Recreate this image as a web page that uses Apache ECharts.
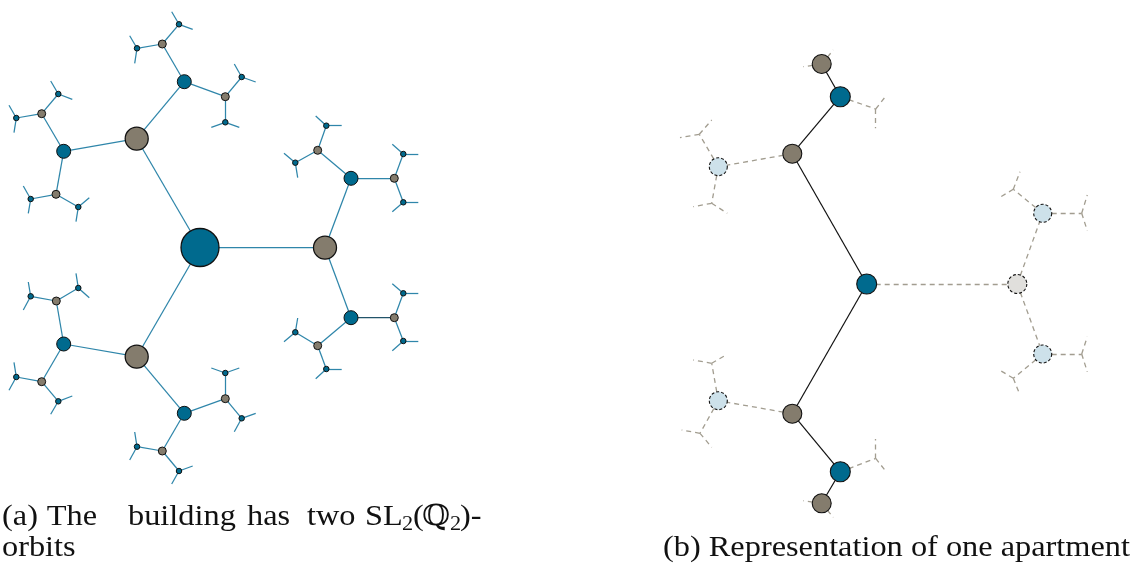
<!DOCTYPE html>
<html><head><meta charset="utf-8">
<script src="https://cdn.jsdelivr.net/npm/echarts@6/dist/echarts.min.js"></script>
<style>html,body{margin:0;padding:0;background:#fff}#c{width:1132px;height:567px}</style>
</head><body><div id="c"></div>
<script>
// ---------- Data: left tree (building) ----------
// [x, y, level]
const leftNodes = [
  [200,247.5,0],
  [136.7,138.7,1],[325,247.7,1],[136.7,356.7,1],
  [184.3,81.7,2],[63.7,151.3,2],[351,178.3,2],[351,317.7,2],[63.7,344,2],[184.3,413.3,2],
  [162.3,44,3],[225.3,96.7,3],[41.7,113.7,3],[56,194.3,3],[317.7,150.3,3],[394.3,178.3,3],
  [394.3,317.7,3],[317.7,345.7,3],[56.3,301,3],[41.7,381.7,3],[225.3,398.7,3],[162.3,451,3],
  [179,24.3,4],[137,48.3,4],[241.7,77,4],[225.3,122.3,4],[58.3,94,4],[16.3,118,4],
  [30.7,199,4],[78.3,207,4],[326.3,125.7,4],[295.3,162.7,4],[403.3,154,4],[403.3,202.3,4],
  [403.3,293.3,4],[403.3,341,4],[295.3,332.3,4],[326.3,369,4],[30.7,296.3,4],[78.3,288,4],
  [16.3,377,4],[58.3,401.3,4],[225.3,373,4],[241.7,418.3,4],[137,446.7,4],[179,471,4]
];
const leftParents = [-1,0,0,0,1,1,2,2,3,3,4,4,5,5,6,6,7,7,8,8,9,9,
  10,10,11,11,12,12,13,13,14,14,15,15,16,16,17,17,18,18,19,19,20,20,21,21];
// [node, endX, endY]
const leftStubs = [
  [22,171.7,11.7],[22,192.7,29.3],[23,129.7,35.7],[23,134.7,63.3],
  [24,234.3,64],[24,255.7,82],[25,211.3,127.3],[25,239.3,127.3],
  [26,50.7,81],[26,72.3,99.3],[27,9,105.3],[27,14,132.7],
  [28,23.3,186],[28,28.3,213.3],[29,89.3,197.7],[29,76,221.7],
  [30,315.7,116],[30,341.7,125.7],[31,284,153.3],[31,297.7,177.7],
  [32,392.3,144.3],[32,418.3,154],[33,418.3,202.3],[33,392.3,211.7],
  [34,392.3,283.7],[34,418.3,293.3],[35,418.3,341],[35,392.3,350.7],
  [36,297.7,318],[36,284,341.7],[37,341.7,369],[37,315.7,378.7],
  [38,28.3,282],[38,23.3,310],[39,76,273.3],[39,89.3,297.7],
  [40,14,362.3],[40,9,390.3],[41,72.3,396],[41,50.7,414.3],
  [42,211.3,368],[42,239.3,368],[43,255.7,413.3],[43,234.3,431.7],
  [44,134.7,432],[44,129.7,460],[45,192.7,466],[45,171.7,484]
];
const leftDarkEdges = [[7,16]];

// ---------- Data: right (one apartment) ----------
// [x, y, kind]
const rightNodes = [
  [866.7,284,'blue'],[792.3,153.7,'gray'],[792.3,413.7,'gray'],
  [840.3,96.7,'blue'],[840.3,471.7,'blue'],[821.7,64,'gray'],[821.7,503.3,'gray'],
  [1017.3,284,'ghostGray'],[718.3,166.7,'ghostBlue'],[718.3,400.7,'ghostBlue'],
  [1042.7,213.3,'ghostBlue'],[1042.7,354,'ghostBlue']
];
const rightSolidEdges = [[0,1],[0,2],[1,3],[2,4],[3,5],[4,6]];
const rightDashedEdges = [[0,7],[1,8],[2,9],[7,10],[7,11]];
// [node, junctionX, junctionY, end1X, end1Y, end2X, end2Y]
const rightBranches = [
  [8,699.3,134.3,680,137.7,711.7,120],
  [8,711.7,203.3,693.3,206.7,727.3,213.3],
  [9,711.7,363.3,693.3,360,727.3,354.3],
  [9,700,433.3,681.7,430,711.7,447.3],
  [3,875.7,109,886.7,95,875.7,128.3],
  [4,875.7,458.4,886.7,472.4,875.7,439.1],
  [10,1013.3,189.3,998.3,198.3,1020,171.7],
  [10,1081.7,213.3,1087.3,195,1087.3,230.7],
  [11,1013.3,378.3,998.3,369.3,1020,395],
  [11,1081.7,354,1087.3,336.7,1087.3,371.7]
];
// [node, endX, endY]
const rightStubs = [[5,803.3,66.7],[5,833.3,50],[6,803.3,500.7],[6,833.3,517.4]];

// ---------- Captions: [text, left x, baseline, size] ----------
const captionParts = [
  ['(a)', 2, 527, 29], ['The', 46.7, 527, 29], ['building', 128, 527, 29],
  ['has', 247, 527, 29], ['two', 307, 527, 29],
  ['SL', 365, 527, 29], ['2', 402, 532, 20], ['(', 413, 527, 29],
  ['ℚ', 422, 527, 29], ['2', 450, 532, 20], [')-', 460, 527, 29],
  ['orbits', 2, 558, 29],
  ['(b) Representation of one apartment', 663, 558, 29]
];
const captionRefWidth = 467; // measured width of caption (b)

// ---------- Styles ----------
const BLUE = '#006a8e', GRAY = '#847c6d', TEAL = '#2f86aa';
const LBLUE = '#cde1ea', LGRAY = '#e0dfdc', DASH = '#a29d90';
const leftSizes = [38, 23, 14, 8, 5.5];
const leftColors = [BLUE, GRAY, BLUE, GRAY, BLUE];

const seg = (a, b) => ({coords: [a, b]});
const leftEdgeData = [], leftDarkData = [];
leftParents.forEach((p, i) => {
  if (p < 0) return;
  const isDark = leftDarkEdges.some(e => e[0] === p && e[1] === i);
  (isDark ? leftDarkData : leftEdgeData).push(seg(leftNodes[p].slice(0,2), leftNodes[i].slice(0,2)));
});
leftStubs.forEach(s => leftEdgeData.push(seg(leftNodes[s[0]].slice(0,2), [s[1], s[2]])));

const rSolid = rightSolidEdges.map(e => seg(rightNodes[e[0]].slice(0,2), rightNodes[e[1]].slice(0,2)));
const rDashed = rightDashedEdges.map(e => seg(rightNodes[e[0]].slice(0,2), rightNodes[e[1]].slice(0,2)));
rightBranches.forEach(b => {
  const j = [b[1], b[2]];
  rDashed.push(seg(rightNodes[b[0]].slice(0,2), j));
  rDashed.push(seg(j, [b[3], b[4]]));
  rDashed.push(seg(j, [b[5], b[6]]));
});
rightStubs.forEach(s => rDashed.push(seg(rightNodes[s[0]].slice(0,2), [s[1], s[2]])));

const kindStyle = {
  blue: {size: 20, color: BLUE, dashed: false},
  gray: {size: 19, color: GRAY, dashed: false},
  ghostBlue: {size: 18, color: LBLUE, dashed: true},
  ghostGray: {size: 19, color: LGRAY, dashed: true}
};

// uniform horizontal scale (Liberation Serif is narrower than Computer Modern)
const fontOf = s => s + 'px "Liberation Serif", "DejaVu Serif", serif';
const ctx = document.createElement('canvas').getContext('2d');
ctx.font = fontOf(29);
const sx = captionRefWidth / ctx.measureText(captionParts[captionParts.length - 1][0]).width;
const graphics = captionParts.map(p => ({
  type: 'text', x: p[1], y: p[2] - p[3] * 0.34, scaleX: sx, originX: 0, silent: true,
  style: {text: p[0], font: fontOf(p[3]), fill: '#111', textAlign: 'left', textVerticalAlign: 'middle'}
}));

const chart = echarts.init(document.getElementById('c'));
chart.setOption({
  animation: false,
  backgroundColor: '#fff',
  grid: {left: 0, right: 0, top: 0, bottom: 0},
  xAxis: {type: 'value', min: 0, max: 1132, show: false},
  yAxis: {type: 'value', min: 0, max: 567, inverse: true, show: false},
  series: [
    {type: 'lines', coordinateSystem: 'cartesian2d', z: 1, silent: true,
     lineStyle: {color: TEAL, width: 1.25, opacity: 1}, data: leftEdgeData},
    {type: 'lines', coordinateSystem: 'cartesian2d', z: 1, silent: true,
     lineStyle: {color: '#22536a', width: 1.25, opacity: 1}, data: leftDarkData},
    {type: 'scatter', z: 3, silent: true,
     data: leftNodes.map(n => ({value: [n[0], n[1]], symbolSize: leftSizes[n[2]],
       itemStyle: {color: leftColors[n[2]], opacity: 1, borderColor: '#111', borderWidth: n[2] < 2 ? 1.3 : 1}}))},
    {type: 'lines', coordinateSystem: 'cartesian2d', z: 1, silent: true,
     lineStyle: {color: DASH, width: 1.3, opacity: 1, type: [5, 4]}, data: rDashed},
    {type: 'lines', coordinateSystem: 'cartesian2d', z: 2, silent: true,
     lineStyle: {color: '#111', width: 1.2, opacity: 1}, data: rSolid},
    {type: 'scatter', z: 3, silent: true,
     data: rightNodes.map(n => { const k = kindStyle[n[2]]; return {value: [n[0], n[1]], symbolSize: k.size,
       itemStyle: {color: k.color, opacity: 1, borderColor: '#111', borderWidth: 1.1, borderType: k.dashed ? [3, 2] : 'solid'}}; })}
  ],
  graphic: graphics
});
</script></body></html>
